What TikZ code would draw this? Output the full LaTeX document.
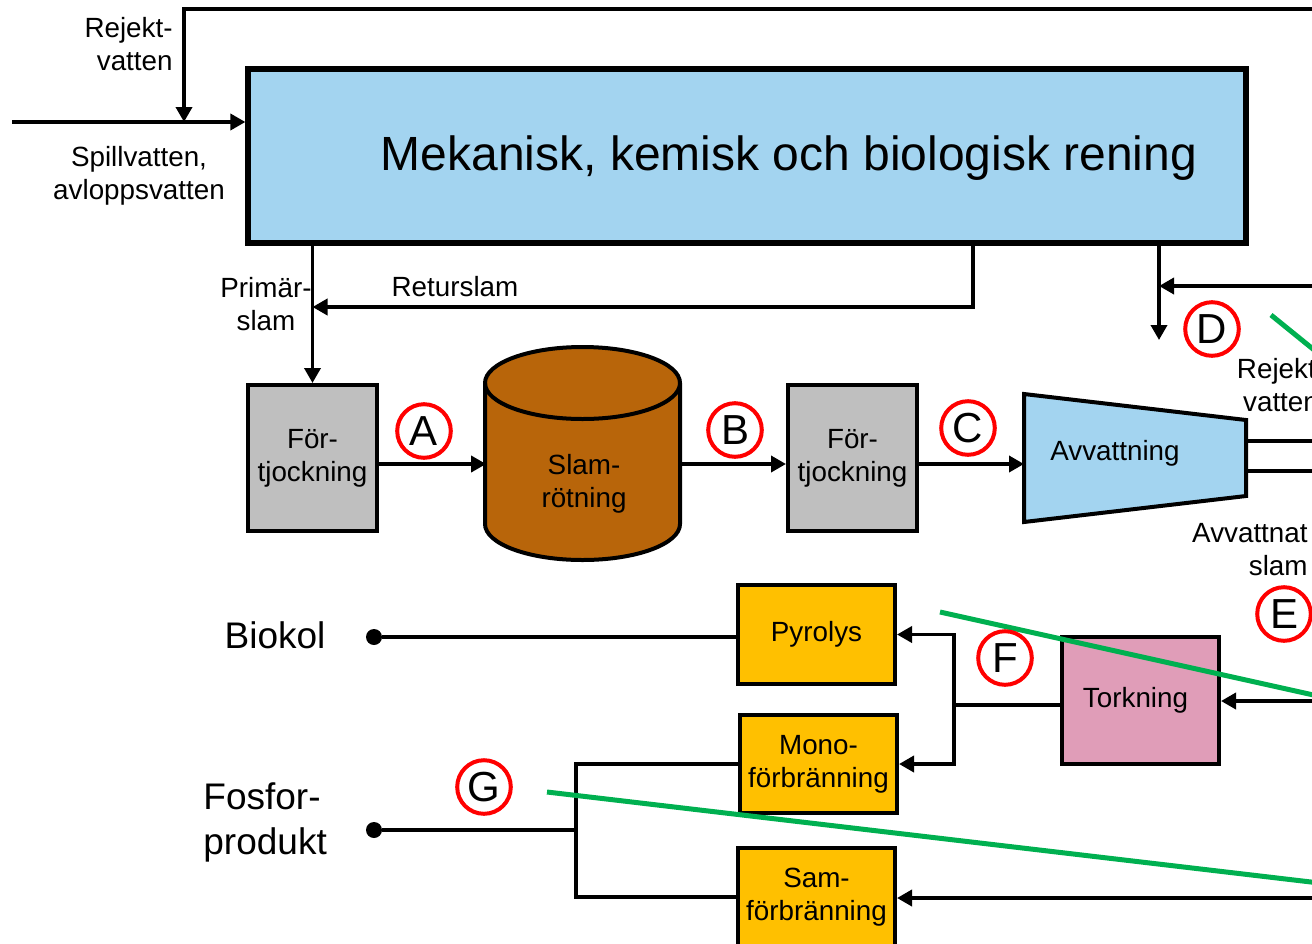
\documentclass[tikz,border=0pt]{standalone}
\usepackage{fontspec}
\setmainfont{Liberation Sans}
\usetikzlibrary{arrows.meta}
\definecolor{ljusbla}{HTML}{A3D4F0}
\definecolor{gra}{HTML}{BFBFBF}
\definecolor{brun}{HTML}{B8650A}
\definecolor{gul}{HTML}{FFC000}
\definecolor{rosa}{HTML}{E09DB8}
\definecolor{gron}{HTML}{00B050}
\newcommand{\txtS}{\fontsize{13.9}{16.5}\selectfont}
\newcommand{\txtM}{\fontsize{18.5}{22.5}\selectfont}
\newcommand{\txtL}{\fontsize{24}{28}\selectfont}
\newcommand{\txtB}{\fontsize{21}{24}\selectfont}

\tikzstyle{flow}=[line width=1.8pt, -{Triangle[length=7.5pt,width=8pt]}]
\tikzstyle{pipe}=[line width=1.8pt]
\tikzstyle{cell}=[draw, line width=2pt, align=center, inner sep=0pt, font=\txtS]
\tikzstyle{bcell}=[draw, line width=2.6pt, fill=ljusbla, minimum width=499pt, minimum height=87pt]
\tikzstyle{gcell}=[cell, fill=gra, minimum width=64.5pt, minimum height=73pt]
\tikzstyle{ycell}=[cell, fill=gul, minimum width=78.5pt, minimum height=49.5pt]
\tikzstyle{pcell}=[cell, fill=rosa, minimum width=78.5pt, minimum height=63.5pt]
\tikzstyle{lcirc}=[circle, draw=red, line width=2pt, minimum size=26.8pt, inner sep=0pt, font=\txtB]
\tikzstyle{txt}=[align=center, font=\txtS, inner sep=0pt]
\tikzstyle{dot}=[circle, fill, inner sep=0pt, minimum size=8pt]
\tikzstyle{cut}=[draw=gron, line width=2.5pt]

\begin{document}
\begin{tikzpicture}[x=0.5pt, y=-0.5pt]
\useasboundingbox (0,0) rectangle (1312,943);
\clip (0,0) rectangle (1312,943);

\node[bcell] (ren) at (747,156) {};
\node[font=\txtL] (rentxt) at (789,158) {Mekanisk, kemisk och biologisk rening};

\coordinate (inn) at (12,122);
\coordinate (rejL) at (184,9);
\coordinate (rejR) at (1340,9);
\draw[flow] (inn) -- (ren.west |- inn);
\draw[flow] (rejR) -- (rejL) -- (rejL |- inn);
\node[txt, align=right, anchor=east] (rej1) at (173,44) {Rejekt-\\vatten};
\node[txt] (spill) at (139,176) {Spillvatten,\\avloppsvatten};

\node[gcell] (f1) at (312.5,458) {För-\\tjockning};
\node[gcell] (f2) at (852.5,458) {För-\\tjockning};

\draw[line width=2pt, fill=brun] (485,383) -- (485,524) arc[start angle=180, end angle=360, x radius=48.75pt, y radius=18pt] -- (680,383) arc[start angle=0, end angle=180, x radius=48.75pt, y radius=18pt] -- cycle;
\draw[line width=2pt] (485,383) arc[start angle=180, end angle=360, x radius=48.75pt, y radius=18pt];
\node[txt, minimum width=97.5pt] (rot) at (584,484) {Slam-\\rötning};

\draw[line width=2pt, fill=ljusbla] (1024,394) -- (1246,420) -- (1246,496) -- (1024,522) -- cycle;
\node[txt] (avv) at (1115,453) {Avvattning};
\coordinate (avin) at (1024,464);

\draw[flow] (f1.north |- ren.south) -- (f1.north);
\node[txt] (prim) at (266,304) {Primär-\\slam};
\coordinate (ret) at (973,307);
\draw[flow] (ret |- ren.south) -- (ret) -- (f1.north |- ret);
\node[txt] (retur) at (455,287) {Returslam};

\coordinate (dD) at (1159,340);
\coordinate (dR) at (1340,286);
\draw[flow] (dD |- ren.south) -- (dD);
\draw[flow] (dR) -- (dD |- dR);

\draw[flow] ([yshift=-3pt]f1.east) -- ([yshift=-3pt]f1.east -| rot.west);
\draw[flow] ([yshift=-3pt]f1.east -| rot.east) -- ([yshift=-3pt]f2.west);
\draw[flow] ([yshift=-3pt]f2.east) -- (avin);

\coordinate (ut1) at (1246,441);
\coordinate (ut2) at (1246,471);
\coordinate (ut1e) at (1328,441);
\coordinate (ut2e) at (1328,471);
\draw[flow] (ut1) -- (ut1e);
\draw[flow] (ut2) -- (ut2e);
\node[txt] (rej2) at (1281,385) {Rejekt-\\vatten};
\node[txt, align=right, anchor=east] (avsl) at (1308,550) {Avvattnat\\slam};

\node[pcell] (tork) at (1140.5,700.5) {\hspace*{-5pt}Torkning};
\node[ycell] (pyr) at (816.5,634.5) {Pyrolys};
\node[ycell, minimum height=49pt] (mono) at (818.5,764) {Mono-\\förbränning};
\node[ycell] (sam) at (816.5,897) {Sam-\\förbränning};

\coordinate (tin) at (1340,701);
\coordinate (sin) at (1340,898);
\coordinate (gr) at (954,705);
\draw[flow] (tin) -- (tork.east |- tin);
\draw[flow] (sin) -- (sam.east |- sin);
\draw[pipe] (tork.west |- gr) -- (gr);
\draw[flow] (gr) -- (gr |- pyr.east) -- (pyr.east);
\draw[flow] (gr) -- (gr |- mono.east) -- (mono.east);

\node[dot] (bio) at (374,637) {};
\node[font=\txtM, inner sep=0pt] (biotxt) at (275,635) {Biokol};
\draw[pipe] (bio) -- (bio -| pyr.west);

\node[dot] (fos) at (374,830) {};
\node[font=\txtM, inner sep=0pt, align=left, anchor=west] (fostxt) at (203,822) {Fosfor-\\produkt};
\coordinate (gf) at (576,830);
\draw[pipe] (fos) -- (gf);
\draw[pipe] (mono.west) -- (gf |- mono.west) -- (gf |- sam.west) -- (sam.west);

\draw[cut] (1271,315) -- (1345,375);
\draw[cut] (940,612) -- (1345,702);
\draw[cut] (547,792) -- (1345,886);

\node[lcirc] (A) at (424,431) {A};
\node[lcirc] (B) at (735,430) {B};
\node[lcirc] (C) at (968,428) {C};
\node[lcirc] (D) at (1212,329) {D};
\node[lcirc] (E) at (1284,614) {E};
\node[lcirc] (F) at (1005,658) {F};
\node[lcirc] (G) at (484,787) {G};
\end{tikzpicture}
\end{document}
